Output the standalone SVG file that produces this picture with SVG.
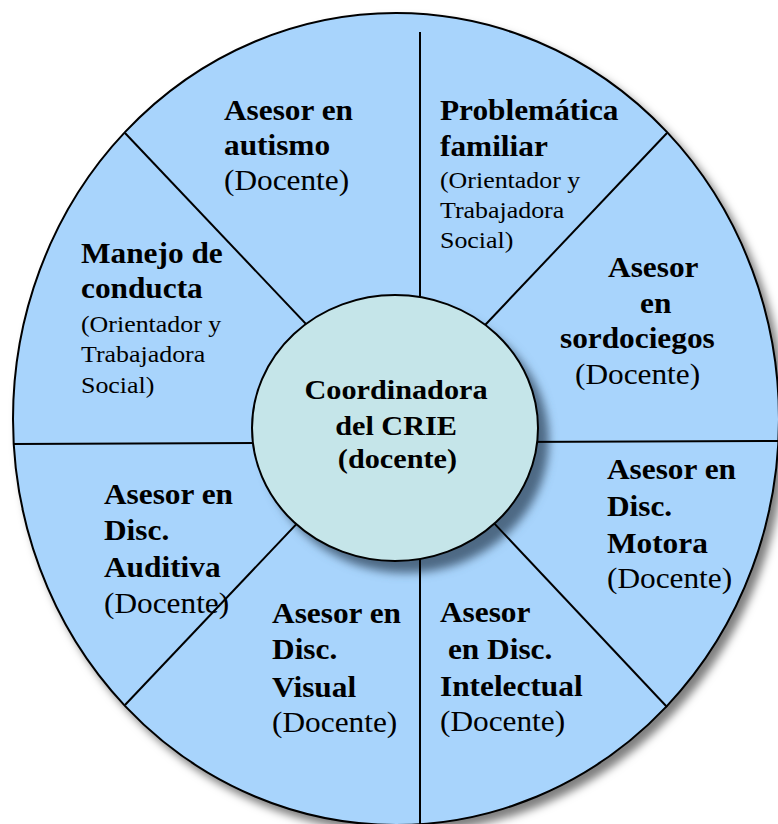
<svg xmlns="http://www.w3.org/2000/svg" width="778" height="824" viewBox="0 0 778 824">
<defs>
<filter id="outerShadow" x="-10%" y="-10%" width="125%" height="125%">
<feDropShadow dx="6" dy="7" stdDeviation="4" flood-color="#000" flood-opacity="0.5"/>
</filter>
<filter id="blur" x="-20%" y="-20%" width="140%" height="140%">
<feGaussianBlur stdDeviation="5"/>
</filter>
</defs>
<style>
.b{font-family:"Liberation Serif","Times New Roman",serif;font-weight:bold;font-size:29px;fill:#000}
.r{font-family:"Liberation Serif","Times New Roman",serif;font-size:29px;fill:#000}
.s{font-family:"Liberation Serif","Times New Roman",serif;font-size:24px;fill:#000}
.c{font-family:"Liberation Serif","Times New Roman",serif;font-weight:bold;font-size:28px;fill:#000;text-anchor:middle}
.ln{stroke:#000;stroke-width:2;fill:none}
</style>
<rect width="778" height="824" fill="#fff"/>
<g id="wheel">
<ellipse cx="396" cy="419" rx="383" ry="406" fill="#a8d4fc" stroke="#000" stroke-width="2" filter="url(#outerShadow)"/>
<ellipse cx="406" cy="440" rx="143" ry="133" fill="#4d6984" filter="url(#blur)"/>
</g>
<g id="connectors">
<line class="ln" x1="420" y1="32" x2="420" y2="826"/>
<line class="ln" x1="13" y1="444" x2="778" y2="441"/>
<line class="ln" x1="125" y1="133" x2="396" y2="419"/>
<line class="ln" x1="667" y1="133" x2="396" y2="419"/>
<line class="ln" x1="125" y1="705" x2="396" y2="419"/>
<line class="ln" x1="667" y1="707" x2="396" y2="419"/>
</g>
<g id="center">
<ellipse cx="395" cy="428" rx="143" ry="133" fill="#c5e5e9" stroke="#000" stroke-width="2"/>
<g transform="scale(1.08 1)">
<text class="c" x="366.7" y="399">Coordinadora</text>
<text class="c" x="366.7" y="435">del CRIE</text>
<text class="c" x="368" y="468">(docente)</text>
</g>
</g>
<g id="autismo" transform="scale(1.08 1)">
<text class="b" x="207.4" y="120">Asesor en</text>
<text class="b" x="207.4" y="155">autismo</text>
<text class="r" x="207.4" y="190">(Docente)</text>
</g>
<g id="familiar" transform="scale(1.08 1)">
<text class="b" x="407.4" y="120">Problemática</text>
<text class="b" x="407.4" y="156">familiar</text>
<text class="s" x="407.4" y="188">(Orientador y</text>
<text class="s" x="407.4" y="218">Trabajadora</text>
<text class="s" x="407.4" y="248">Social)</text>
</g>
<g id="conducta" transform="scale(1.08 1)">
<text class="b" x="75" y="263">Manejo de</text>
<text class="b" x="75" y="298">conducta</text>
<text class="s" x="75" y="332">(Orientador y</text>
<text class="s" x="75" y="362">Trabajadora</text>
<text class="s" x="75" y="393">Social)</text>
</g>
<g id="sordociegos" transform="scale(1.08 1)">
<text class="b" x="563" y="277">Asesor</text>
<text class="b" x="592.6" y="313">en</text>
<text class="b" x="518.5" y="348">sordociegos</text>
<text class="r" x="532.4" y="384">(Docente)</text>
</g>
<g id="motora" transform="scale(1.08 1)">
<text class="b" x="562" y="479">Asesor en</text>
<text class="b" x="562" y="516">Disc.</text>
<text class="b" x="562" y="553">Motora</text>
<text class="r" x="562" y="588">(Docente)</text>
</g>
<g id="auditiva" transform="scale(1.08 1)">
<text class="b" x="96.3" y="504">Asesor en</text>
<text class="b" x="96.3" y="540">Disc.</text>
<text class="b" x="96.3" y="577">Auditiva</text>
<text class="r" x="96.3" y="613">(Docente)</text>
</g>
<g id="visual" transform="scale(1.08 1)">
<text class="b" x="251.9" y="623">Asesor en</text>
<text class="b" x="251.9" y="659">Disc.</text>
<text class="b" x="251.9" y="697">Visual</text>
<text class="r" x="251.9" y="732">(Docente)</text>
</g>
<g id="intelectual" transform="scale(1.08 1)">
<text class="b" x="407.4" y="622">Asesor</text>
<text class="b" x="414.8" y="659">en Disc.</text>
<text class="b" x="407.4" y="696">Intelectual</text>
<text class="r" x="407.4" y="731">(Docente)</text>
</g>
</svg>
